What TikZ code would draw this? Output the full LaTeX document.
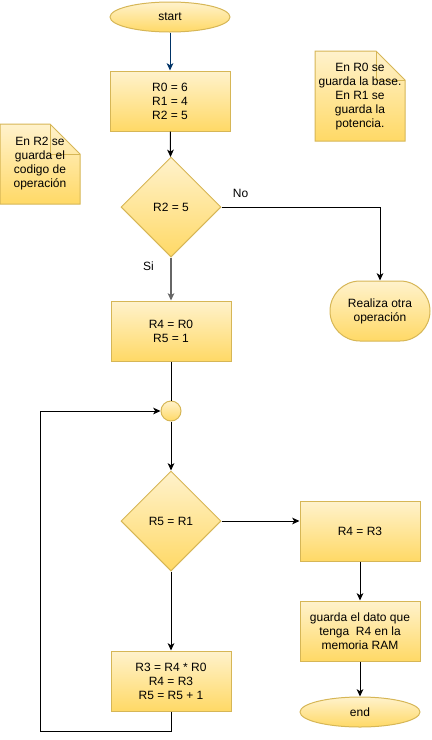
\documentclass[tikz,border=0pt]{standalone}
\usepackage{fontspec}
\setmainfont{Liberation Sans}
\usetikzlibrary{arrows.meta,shapes.geometric}
\definecolor{fillTop}{HTML}{FFF2CC}
\definecolor{fillBot}{HTML}{FFD966}
\definecolor{edgeGold}{HTML}{D6B656}
\definecolor{navy}{HTML}{003366}
\definecolor{grayLine}{HTML}{666666}

\begin{document}
\begin{tikzpicture}[x=0.75pt,y=-0.75pt,line width=0.75pt,
    font=\fontsize{9}{10.5}\selectfont,
    >={Stealth[length=5.5pt,width=5pt,inset=1.5pt]},
    yellowbox/.style={draw=edgeGold,top color=fillTop,bottom color=fillBot,align=center,inner sep=0pt},
    proc/.style={yellowbox,rectangle,minimum width=90pt,minimum height=45pt},
    term/.style={yellowbox,ellipse,minimum width=90pt,minimum height=22.5pt},
    decision/.style={yellowbox,diamond,minimum width=75pt,minimum height=75pt},
    foldnote/.style={draw=edgeGold,top color=fillTop,bottom color=fillBot}]
    \useasboundingbox (0,0) rectangle (432,740);

    % main column
    \node[term] (start) at (170,17) {start};
    \node[proc] (init) at (170,101) {R0 = 6\\R1 = 4\\R2 = 5};
    \node[decision] (opcode) at (171,207) {R2 = 5};
    \node[proc] (setup) at (171,331) {R4 = R0\\R5 = 1};
    \node[yellowbox,circle,minimum size=15pt] (merge) at (171,411) {};
    \node[decision] (test) at (171,521) {R5 = R1};
    \node[proc] (mult) at (171,681) {R3 = R4 * R0\\R4 = R3\\R5 = R5 + 1};

    % right column
    \node[yellowbox,rectangle,rounded corners=22.5pt,minimum width=75pt,minimum height=45pt] (other) at (380,311) {Realiza otra\\operación};
    \node[proc] (result) at (360,531) {R4 = R3};
    \node[proc] (store) at (360,631) {guarda el dato que\\tenga~ R4 en la\\memoria RAM};
    \node[term] (end) at (360,712) {end};
    \coordinate (loop) at (40,731);

    % notes
    \path[foldnote] (0,124) -- (50,124) -- (80,154) -- (80,204) -- (0,204) -- cycle;
    \draw[edgeGold] (50,124) -- (50,154) -- (80,154);
    \node[align=center] (noteop) at (40,164) {En R2 se\\guarda el\\codigo de\\operación};
    \path[foldnote] (315,51) -- (376,51) -- (405,80) -- (405,141) -- (315,141) -- cycle;
    \draw[edgeGold] (376,51) -- (376,80) -- (405,80);
    \node[align=center] (notebase) at (360,97) {En R0 se\\guarda la base.\\En R1 se\\guarda la\\potencia.};

    % connectors
    \draw[->,navy] (start) -- (init);
    \draw[->] (init) -- (opcode);
    \draw[->] (opcode.east) -| node[pos=0.06,above,yshift=3pt]{No} (other.north);
    \draw[->,grayLine,line width=1.2pt] (opcode.south) -- node[pos=0.2,left,xshift=-9pt,text=black]{Si} (setup.north);
    \draw (setup) -- (merge);
    \draw[->] (merge) -- (test);
    \draw[->] (test.east) -- (test.east -| result.west);
    \draw[->] (result) -- (store);
    \draw[->] (store) -- (end);
    \draw[->] (test.south) -- (mult.north);
    \draw[->] (mult.south) |- (loop) |- (merge.west);
\end{tikzpicture}
\end{document}
